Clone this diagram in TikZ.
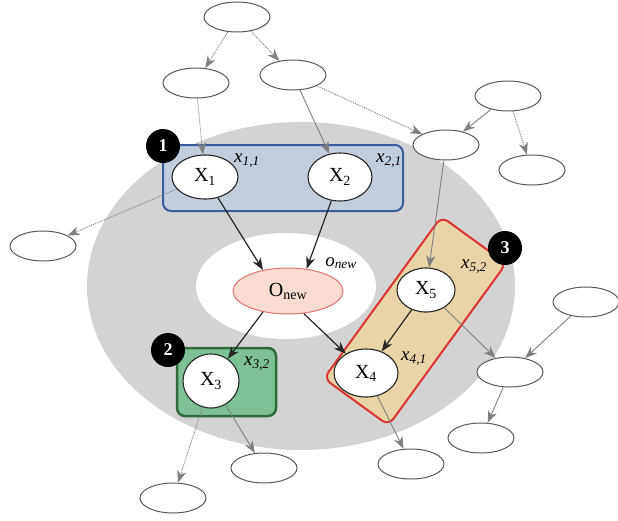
\documentclass[tikz,border=0pt]{standalone}
\usepackage{fontspec}
\setmainfont{Liberation Serif}
\usetikzlibrary{shapes.geometric,arrows.meta,positioning}

\definecolor{ringgray}{HTML}{D3D3D3}
\definecolor{grpblue}{HTML}{C3CEDD}
\definecolor{grpblueline}{HTML}{3B5C9C}
\definecolor{grpgreen}{HTML}{7DC196}
\definecolor{grpgreenline}{HTML}{2E6A3C}
\definecolor{grptan}{HTML}{E8D4A6}
\definecolor{grpred}{HTML}{DD3333}
\definecolor{newpink}{HTML}{FADBD2}
\definecolor{newline}{HTML}{E07272}

\begin{document}
\begin{tikzpicture}[x=1pt, y=-1pt,
    extnode/.style={ellipse, draw=black!65, fill=white, line width=1pt, minimum width=66pt, minimum height=30pt, inner sep=0pt},
    varnode/.style={ellipse, draw=black!85, fill=white, line width=1.1pt, inner sep=0pt, font=\fontsize{20}{22}\selectfont},
    newnode/.style={ellipse, draw=newline, fill=newpink, line width=1pt, inner sep=0pt, minimum width=110pt, minimum height=46pt, font=\fontsize{20}{22}\selectfont},
    badge/.style={circle, fill=black, text=white, inner sep=0pt, minimum size=34pt, font=\bfseries\fontsize{18}{20}\selectfont},
    tag/.style={inner sep=0pt, font=\itshape\fontsize{19}{21}\selectfont},
    grpbox/.style={rectangle, rounded corners=8pt, line width=2pt},
    link/.style={draw=black!85, line width=1.2pt, -{Stealth[length=12pt, width=9pt, inset=3.5pt]}},
    faint/.style={draw=black!50, line width=0.9pt, -{Stealth[length=12pt, width=9pt, inset=3.5pt]}},
    faintdot/.style={faint, dash pattern=on 1pt off 1pt}
]
\useasboundingbox (0,0) rectangle (618,520);

% Background rings
\fill[ringgray] (301,286) ellipse [x radius=214, y radius=164];
\fill[white] (286,286) ellipse [x radius=90, y radius=53];

% Groups
\node[grpbox, draw=grpblueline, fill=grpblue, minimum width=240pt, minimum height=66pt] (grp1) at (283,178) {};
\node[grpbox, draw=grpgreenline, fill=grpgreen, line width=2.5pt, minimum width=99pt, minimum height=68pt] (grp2) at (226.5,382) {};
\node[grpbox, draw=grpred, fill=grptan, rotate=54, minimum width=200pt, minimum height=80pt] (grp3) at (415,321) {};

% Outer nodes
\node[extnode] (e1) at (237,17) {};
\node[extnode] (e2) at (196,83) {};
\node[extnode] (e3) at (293,75) {};
\node[extnode] (e4) at (508,96) {};
\node[extnode] (e5) at (446,145) {};
\node[extnode] (e6) at (532,170) {};
\node[extnode] (e7) at (43,246) {};
\node[extnode] (e8) at (586,302) {};
\node[extnode] (e9) at (510,372) {};
\node[extnode] (e10) at (481,438) {};
\node[extnode] (e11) at (411,464) {};
\node[extnode] (e12) at (264,468) {};
\node[extnode] (e13) at (173,498) {};

% Variables
\node[varnode, minimum width=66pt, minimum height=44pt] (x1) at (205,177) {X\textsubscript{1}};
\node[varnode, minimum width=64pt, minimum height=48pt] (x2) at (340,177) {X\textsubscript{2}};
\node[varnode, minimum width=56pt, minimum height=54pt] (x3) at (211,381) {X\textsubscript{3}};
\node[varnode, minimum width=64pt, minimum height=48pt] (x4) at (366,373) {X\textsubscript{4}};
\node[varnode, minimum width=58pt, minimum height=44pt] (x5) at (426,290) {X\textsubscript{5}};
\node[newnode] (onew) at (288,291) {O\textsubscript{new}};

% Tags
\node[tag] (t11) at (247,161) {x\textsubscript{1,1}};
\node[tag] (t21) at (389,161) {x\textsubscript{2,1}};
\node[tag] (t32) at (257,364) {x\textsubscript{3,2}};
\node[tag] (t41) at (414,359) {x\textsubscript{4,1}};
\node[tag] (t52) at (474,267) {x\textsubscript{5,2}};
\node[tag] (tnew) at (341,263) {o\textsubscript{new}};

% Gray lines
\draw[faintdot] (e1) -- (e2);
\draw[faintdot] (e1) -- (e3);
\draw[faintdot] (e2) -- (x1);
\draw[faint] (e3) -- (x2);
\draw[faintdot] (e3) -- (e5);
\draw[faint] (e4) -- (e5);
\draw[faintdot] (e4) -- (e6);
\draw[faint] (e5) -- (x5);
\draw[faintdot] (x1) -- (e7);
\draw[faintdot] (x3) -- (e13);
\draw[faint] (x3) -- (e12);
\draw[faint] (x4) -- (e11);
\draw[faint] (x5) -- (e9);
\draw[faint] (e8) -- (e9);
\draw[faint] (e9) -- (e10);

% Black lines
\draw[link] (x1) -- (onew.140);
\draw[link] (x2) -- (onew.50);
\draw[link] (onew.220) -- (x3);
\draw[link] (onew.305) -- (x4);
\draw[link] (x5) -- (x4);

% Badges
\node[badge] (b1) at (163,146) {1};
\node[badge] (b2) at (168,350) {2};
\node[badge] (b3) at (505,248) {3};

\end{tikzpicture}
\end{document}
